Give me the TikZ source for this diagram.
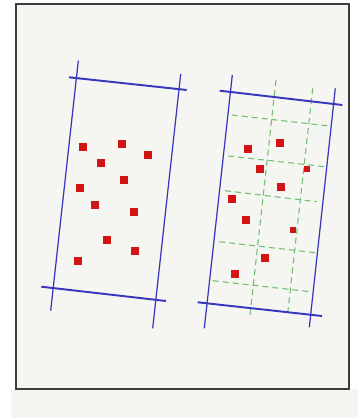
\documentclass[tikz,border=0pt]{standalone}
\begin{document}
\begin{tikzpicture}[x=0.02cm,y=-0.02cm]
\definecolor{paper}{RGB}{245,245,242}
\definecolor{edge}{RGB}{60,60,60}
\definecolor{bound}{RGB}{55,55,190}
\definecolor{pt}{RGB}{210,20,20}
\definecolor{cell}{RGB}{110,190,110}
\tikzset{
  bar/.style={bound,line width=1.1pt},
  side/.style={bound,line width=0.7pt},
  grid/.style={cell,dash pattern=on 3.4pt off 2.3pt,line width=0.6pt},
  sample/.style={fill=pt,draw=none}
}
\useasboundingbox (0,0) rectangle (362,418);
\fill[white] (0,0) rectangle (362,418);
\fill[paper] (11,389) rectangle (358,418);
\draw[edge,line width=1.2pt,fill=paper] (16,4) rectangle (349,389);

\draw[side] (78.3,60.7)--(50.7,310.7);
\draw[side] (180.7,74)--(152.7,328.3);
\draw[bar] (69,77.3)--(186.7,90);
\draw[bar] (41.3,286.7)--(166,301);
\foreach \x/\y in {83.3/146.7,122.3/144,147.7/155,101.3/162.7,124/180,
  80.3/188.3,95/204.7,133.7/212.3,106.7/240.3,135.3/250.7,78/261.3}
  \fill[sample] (\x-4,\y-4) rectangle (\x+4,\y+4);

\draw[grid] (231.7,115)--(329.3,126);
\draw[grid] (228.3,156)--(325,166.7);
\draw[grid] (225,190.7)--(316.7,201.7);
\draw[grid] (219.3,241.7)--(315,252.7);
\draw[grid] (212.7,280.7)--(310,291.7);
\draw[grid] (276,80)--(250,315);
\draw[grid] (312.7,88.3)--(287.3,316.7);
\draw[side] (232.3,75)--(204.3,328.3);
\draw[side] (335.3,88.3)--(309.3,327.3);
\draw[bar] (219.7,90.7)--(342.3,105);
\draw[bar] (197.7,302.3)--(322,316);
\foreach \x/\y in {247.7/148.7,280/143.3,260/168.7,281.3/187,232.3/198.7,
  245.7/220.3,265.3/257.7,234.7/274}
  \fill[sample] (\x-4,\y-4) rectangle (\x+4,\y+4);
\foreach \x/\y in {307.3/169.3,292.7/230}
  \fill[sample] (\x-3,\y-3) rectangle (\x+3,\y+3);
\end{tikzpicture}
\end{document}
